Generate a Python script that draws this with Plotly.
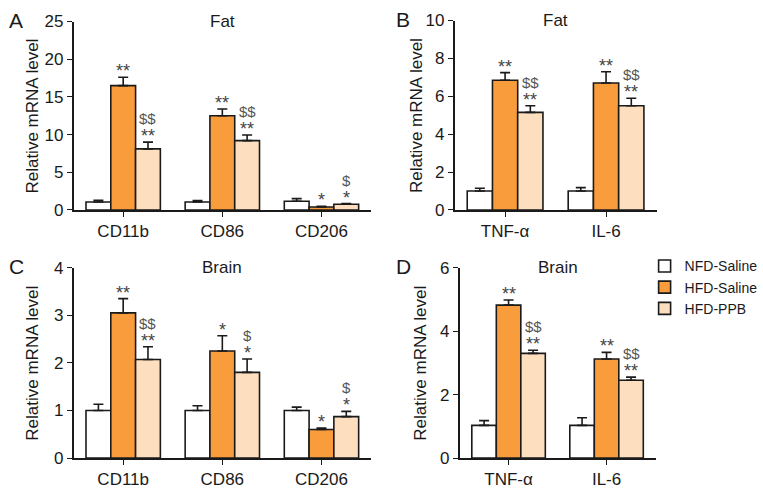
import plotly.graph_objects as go

groups = ["NFD-Saline", "HFD-Saline", "HFD-PPB"]
colors = ["#FFFFFF", "#F99D3C", "#FDDEBF"]

# Panel A: Fat, macrophage markers
a_cats = ["CD11b", "CD86", "CD206"]
a_vals = [[1.05, 1.05, 1.15], [16.5, 12.5, 0.4], [8.1, 9.2, 0.75]]
a_errs = [[0.25, 0.2, 0.35], [1.1, 0.9, 0.1], [0.9, 0.75, 0.1]]
a_sig = [["", "", ""], ["**", "**", "*"], ["**", "**", "*"]]
a_dol = [["", "", ""], ["", "", ""], ["$$", "$$", "$"]]

# Panel B: Fat, cytokines
b_cats = ["TNF-α", "IL-6"]
b_vals = [[1.0, 1.0], [6.85, 6.7], [5.15, 5.5]]
b_errs = [[0.15, 0.18], [0.4, 0.6], [0.35, 0.4]]
b_sig = [["", ""], ["**", "**"], ["**", "**"]]
b_dol = [["", ""], ["", ""], ["$$", "$$"]]

# Panel C: Brain, macrophage markers
c_cats = ["CD11b", "CD86", "CD206"]
c_vals = [[1.0, 1.0, 1.0], [3.05, 2.25, 0.6], [2.07, 1.8, 0.87]]
c_errs = [[0.13, 0.1, 0.07], [0.3, 0.32, 0.03], [0.27, 0.28, 0.11]]
c_sig = [["", "", ""], ["**", "*", "*"], ["**", "*", "*"]]
c_dol = [["", "", ""], ["", "", ""], ["$$", "$", "$"]]

# Panel D: Brain, cytokines
d_cats = ["TNF-α", "IL-6"]
d_vals = [[1.03, 1.03], [4.82, 3.12], [3.3, 2.45]]
d_errs = [[0.15, 0.24], [0.16, 0.21], [0.1, 0.1]]
d_sig = [["", ""], ["**", "**"], ["**", "**"]]
d_dol = [["", ""], ["", ""], ["$$", "$$"]]

panels = [
    dict(cats=a_cats, vals=a_vals, errs=a_errs, sig=a_sig, dol=a_dol, yr=[0, 25], dt=5,
         xd=[74/763, 373/763], yd=[1-209/495, 1-13/495], title="Fat", letter="A", lx=7, ytx=33),
    dict(cats=b_cats, vals=b_vals, errs=b_errs, sig=b_sig, dol=b_dol, yr=[0, 10], dt=2,
         xd=[457/763, 660/763], yd=[1-209/495, 1-12/495], title="Fat", letter="B", lx=396, ytx=418),
    dict(cats=c_cats, vals=c_vals, errs=c_errs, sig=c_sig, dol=c_dol, yr=[0, 4], dt=1,
         xd=[74/763, 373/763], yd=[1-467/495, 1-269/495], title="Brain", letter="C", lx=7, ytx=33),
    dict(cats=d_cats, vals=d_vals, errs=d_errs, sig=d_sig, dol=d_dol, yr=[0, 6], dt=2,
         xd=[462/763, 659/763], yd=[1-467/495, 1-269/495], title="Brain", letter="D", lx=396, ytx=423),
]

FONT = "Liberation Sans, Arial, sans-serif"
INK = "#1a1a1a"
fig = go.Figure()
annotations = []
bw = 0.25

for p_i, p in enumerate(panels):
    ax = "" if p_i == 0 else str(p_i + 1)
    xa, ya = "x" + ax, "y" + ax
    xs = list(range(len(p["cats"])))
    for g in range(3):
        off = -0.375 + g * bw
        fig.add_trace(go.Bar(
            x=xs, y=p["vals"][g], width=bw, offset=off,
            marker=dict(color=colors[g], line=dict(color=INK, width=1.6)),
            error_y=dict(type="data", array=p["errs"][g], arrayminus=[0]*len(xs),
                         symmetric=False, color=INK, thickness=1.6, width=5),
            name=groups[g], showlegend=(p_i == 0), legendgroup=groups[g],
            xaxis=xa, yaxis=ya, hoverinfo="skip"))
        for k in xs:
            top = p["vals"][g][k] + p["errs"][g][k]
            cx = k + off + bw / 2
            if p["sig"][g][k]:
                annotations.append(dict(x=cx, y=top, xref=xa, yref=ya, text=p["sig"][g][k],
                                        showarrow=False, yanchor="bottom", yshift=-6,
                                        font=dict(family=FONT, size=18, color="#444")))
            if p["dol"][g][k]:
                annotations.append(dict(x=cx, y=top, xref=xa, yref=ya,
                                        text=p["dol"][g][k].replace("$", "&#36;"),
                                        showarrow=False, yanchor="bottom", yshift=13,
                                        font=dict(family=FONT, size=15, color="#555")))
    fig.layout["xaxis" + ax] = dict(
        domain=p["xd"], anchor=ya, range=[-0.5, len(xs) - 0.5],
        tickvals=xs, ticktext=p["cats"], showline=True, linecolor=INK, linewidth=1.6,
        ticks="outside", ticklen=5, tickwidth=1.4, tickcolor=INK, showgrid=False,
        zeroline=False, tickfont=dict(family=FONT, size=17, color=INK), fixedrange=True)
    fig.layout["yaxis" + ax] = dict(
        domain=p["yd"], anchor=xa, range=p["yr"], dtick=p["dt"], showline=True,
        linecolor=INK, linewidth=1.6, ticks="outside", ticklen=5, tickwidth=1.4,
        tickcolor=INK, showgrid=False, zeroline=False,
        tickfont=dict(family=FONT, size=17, color=INK), fixedrange=True)
    xmid = (p["xd"][0] + p["xd"][1]) / 2
    annotations.append(dict(x=xmid, y=p["yd"][1], xref="paper", yref="paper", text=p["title"],
                            showarrow=False, yanchor="middle", xanchor="center",
                            font=dict(family=FONT, size=17, color=INK)))
    annotations.append(dict(x=p["lx"] / 763, y=p["yd"][1] + 0.002, xref="paper", yref="paper",
                            text=p["letter"], showarrow=False, xanchor="left", yanchor="middle",
                            font=dict(family=FONT, size=21, color=INK)))
    annotations.append(dict(x=p["ytx"] / 763, y=(p["yd"][0] + p["yd"][1]) / 2, xref="paper",
                            yref="paper", text="Relative mRNA level", textangle=-90,
                            showarrow=False, xanchor="center", yanchor="middle",
                            font=dict(family=FONT, size=17, color=INK)))

fig.update_layout(
    width=763, height=495, margin=dict(l=0, r=0, t=0, b=0),
    paper_bgcolor="white", plot_bgcolor="white", barmode="overlay",
    annotations=annotations,
    legend=dict(x=648/763, y=1-251/495, xanchor="left", yanchor="top",
                font=dict(family=FONT, size=14, color=INK), tracegroupgap=0,
                itemwidth=30, bgcolor="rgba(0,0,0,0)"),
)

fig.write_html("out.html", config={"displayModeBar": False},
               post_script="document.body.style.margin='0';document.body.style.overflow='hidden';")
